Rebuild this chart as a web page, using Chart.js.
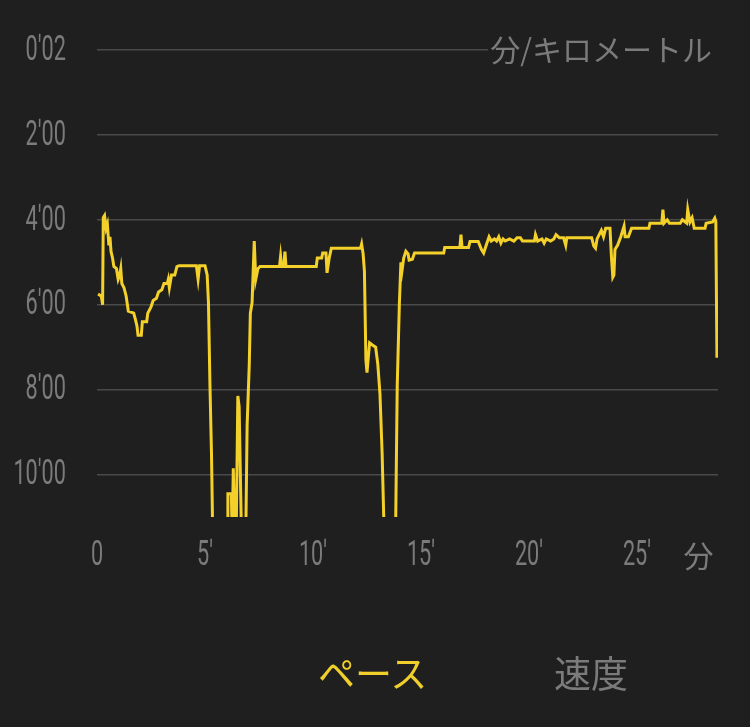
<!DOCTYPE html>
<html>
<head>
<meta charset="utf-8">
<script src="https://cdn.jsdelivr.net/npm/chart.js@4"></script>
<style>
  body { margin: 0; background: #1f1f1f; }
  #wrap { position: relative; width: 750px; height: 727px; }
  #pace { position: absolute; left: 0; top: 0; }
  .tab { position: absolute; top: 645px; font-family: "Noto Sans CJK JP", sans-serif; font-size: 37px; }
  #tabPace { left: 318px; color: #f0cf2c; }
  #tabSpeed { left: 554px; color: #7b7b7b; }
</style>
</head>
<body>
<div id="wrap">
  <canvas id="pace" width="750" height="727"></canvas>
  <div class="tab" id="tabPace">ペース</div>
  <div class="tab" id="tabSpeed">速度</div>
</div>
<script>
// tiempo en minutos
const times = [0.05,0.2,0.26,0.29,0.35,0.42,0.48,0.55,0.6,0.65,0.72,0.78,0.9,0.98,1.05,1.1,1.15,1.25,1.35,1.45,
  1.7,1.78,1.85,1.9,2.05,2.1,2.3,2.35,2.5,2.6,2.75,2.85,3.0,3.1,3.25,3.3,3.35,3.45,3.6,3.7,
  3.8,4.6,4.68,4.75,5.0,5.1,5.16,5.23,5.3,5.36,5.6,5.9,6.02,6.06,6.22,6.26,6.31,6.37,6.45,6.52,
  6.58,6.68,6.74,6.85,6.95,7.05,7.1,7.18,7.28,7.35,7.45,7.55,8.45,8.5,8.55,8.65,8.7,8.75,10.15,10.2,
  10.4,10.45,10.6,10.65,10.75,10.85,12.2,12.25,12.32,12.38,12.45,12.5,12.55,12.62,12.75,12.9,13.0,13.1,13.2,13.3,
  13.4,13.7,13.82,13.9,14.0,14.07,14.12,14.2,14.3,14.4,14.45,14.6,14.7,16.05,16.1,16.8,16.85,16.9,17.2,17.27,
  17.65,17.8,17.9,18.05,18.15,18.25,18.4,18.5,18.6,18.7,18.8,18.9,19.1,19.3,19.45,19.6,19.7,20.25,20.3,20.4,
  20.6,20.7,20.8,21.0,21.15,21.25,21.4,21.6,21.7,21.75,22.9,23.0,23.08,23.15,23.25,23.35,23.45,23.55,23.75,23.82,
  23.88,23.93,23.98,24.1,24.25,24.4,24.45,24.6,24.75,25.55,25.6,26.15,26.2,26.25,26.4,26.5,27.0,27.1,27.3,27.35,
  27.45,27.55,27.65,28.15,28.2,28.5,28.6,28.65,28.7];
// ritmo en min/km
const paces = [5.75,5.8,6.0,3.95,3.9,4.2,4.1,4.6,4.4,4.75,4.9,5.1,5.15,5.4,5.3,5.15,5.5,5.6,5.8,6.15,
  6.2,6.35,6.5,6.72,6.72,6.4,6.4,6.2,6.05,5.9,5.85,5.7,5.65,5.5,5.5,5.4,5.6,5.3,5.3,5.1,
  5.08,5.08,5.4,5.08,5.08,5.3,5.95,7.9,9.5,11.5,13,13,11.5,10.45,10.45,11.5,9.85,11.5,11.2,8.15,
  8.4,11.2,13,13,8.85,7.4,6.2,5.95,4.5,5.4,5.15,5.1,5.1,4.86,5.1,5.1,4.75,5.1,5.1,4.9,
  4.9,4.78,4.78,5.25,4.9,4.67,4.67,4.57,4.8,5.2,7.3,7.6,7.3,6.9,6.95,7.0,7.4,8.1,9.5,11.5,
  13,13,11.5,7.9,5.96,5.0,5.2,4.9,4.74,4.8,4.95,4.93,4.78,4.78,4.65,4.65,4.35,4.65,4.65,4.51,
  4.51,4.7,4.78,4.55,4.4,4.5,4.45,4.5,4.4,4.55,4.45,4.5,4.45,4.5,4.42,4.42,4.5,4.5,4.35,4.5,
  4.45,4.55,4.45,4.5,4.45,4.35,4.42,4.42,4.6,4.42,4.42,4.62,4.67,4.45,4.35,4.25,4.4,4.2,4.2,4.9,
  5.35,5.3,4.7,4.6,4.4,4.15,4.4,4.4,4.2,4.2,4.08,4.08,3.76,4.08,4.0,4.08,4.08,4.0,4.08,3.76,
  4.05,3.95,4.2,4.2,4.08,4.05,3.96,4.05,7.25];

const paceTicks = [0, 2, 4, 6, 8, 10];
const paceLabels = ["0′02", "2′00", "4′00", "6′00", "8′00", "10′00"];
const timeTicks = [0, 5, 10, 15, 20, 25, 27.85];
const timeLabels = ["0", "5′", "10′", "15′", "20′", "25′", "分"];
const unitLabel = "分/キロメートル";

const labelColor = '#7b7b7b';
const numFont = "35px Roboto, 'Noto Sans', sans-serif";
const cjkFont = "30px 'Noto Sans CJK JP', sans-serif";

// texto estrecho (las cifras del original son condensadas)
function condensedText(ctx, text, x, y, align) {
    ctx.save();
    if (/^[0-9′]+$/.test(text)) {
        ctx.font = numFont;
        ctx.translate(x, y);
        ctx.scale(0.62, 1);
        x = 0; y = 0;
    } else {
        ctx.font = cjkFont;
    }
    ctx.textAlign = align;
    ctx.textBaseline = 'middle';
    ctx.fillText(text, x, y);
    ctx.restore();
}

// etiquetas de ejes y de unidades
const labelsPlugin = {
    id: 'labelsPlugin',
    afterDraw(chart) {
        const ctx = chart.ctx;
        const area = chart.chartArea;
        const xs = chart.scales.x;
        const ys = chart.scales.y;
        ctx.save();
        ctx.fillStyle = labelColor;
        paceTicks.forEach((v, i) => {
            condensedText(ctx, paceLabels[i], 66, ys.getPixelForValue(v) + 1, 'right');
        });
        timeTicks.forEach((v, i) => {
            condensedText(ctx, timeLabels[i], xs.getPixelForValue(v), area.bottom + 39, 'center');
        });
        // hueco en la primera linea para la unidad
        const y0 = ys.getPixelForValue(0);
        ctx.fillStyle = '#1f1f1f';
        ctx.fillRect(488, y0 - 6, area.right - 488 + 2, 12);
        ctx.fillStyle = labelColor;
        ctx.font = cjkFont;
        ctx.textAlign = 'right';
        ctx.textBaseline = 'middle';
        ctx.fillText(unitLabel, 712, y0);
        ctx.restore();
    }
};

document.addEventListener("DOMContentLoaded", function() {
    const ctx = document.getElementById('pace').getContext('2d');
    const paceChart = new Chart(ctx, {
        type: 'line',
        data: {
            datasets: [{
                data: times.map((t, i) => ({ x: t, y: paces[i] })),
                borderColor: '#f4d12a',
                borderWidth: 3,
                pointRadius: 0,
                tension: 0,
                fill: false
            }]
        },
        options: {
            responsive: false,
            animation: false,
            layout: { padding: { left: 0, right: 32, top: 50, bottom: 0 } },
            plugins: { legend: { display: false }, tooltip: { enabled: false } },
            scales: {
                x: {
                    type: 'linear',
                    min: 0,
                    max: 28.75,
                    afterFit: scale => { scale.height = 210; },
                    afterBuildTicks: scale => { scale.ticks = timeTicks.map(v => ({ value: v })); },
                    grid: { display: false, drawTicks: false },
                    border: { display: false },
                    ticks: { display: false }
                },
                y: {
                    type: 'linear',
                    reverse: true,
                    min: 0,
                    max: 11,
                    afterFit: scale => { scale.width = 97; },
                    afterBuildTicks: scale => { scale.ticks = paceTicks.map(v => ({ value: v })); },
                    grid: { color: '#4a4a4a', lineWidth: 1.5, drawTicks: false },
                    border: { display: false },
                    ticks: { display: false }
                }
            }
        },
        plugins: [labelsPlugin]
    });
});
</script>
</body>
</html>
